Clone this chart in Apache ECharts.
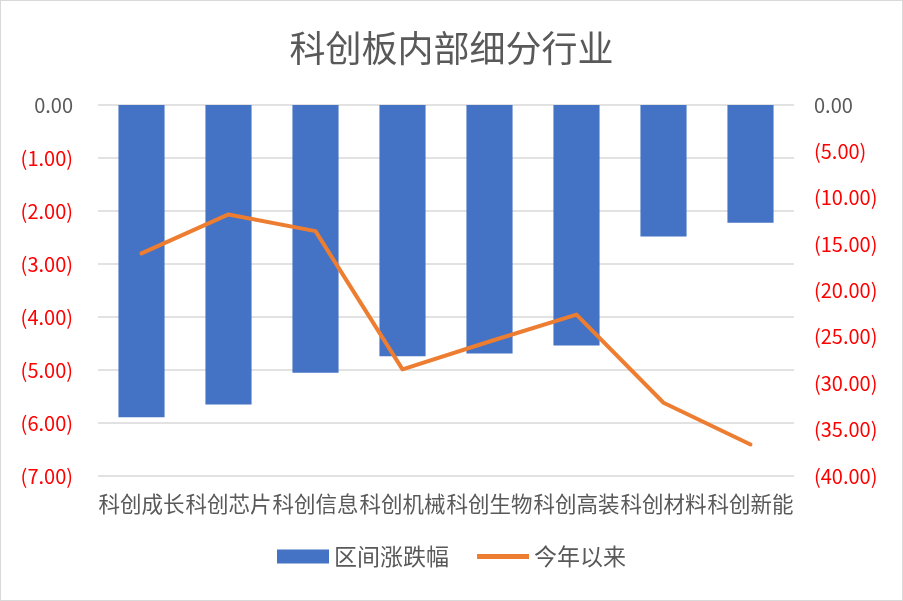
<!DOCTYPE html>
<html>
<head>
<meta charset="utf-8">
<script src="https://cdn.jsdelivr.net/npm/echarts@6/dist/echarts.min.js"></script>
<style>
  html, body { margin: 0; padding: 0; background: #fff; }
  #main { position: absolute; left: 0; top: 0; width: 901px; height: 599px; border: 1px solid #d9d9d9; }
</style>
</head>
<body>
<div id="main"></div>
<script>
// 科创板内部细分行业
var categories = ['科创成长', '科创芯片', '科创信息', '科创机械', '科创生物', '科创高装', '科创材料', '科创新能'];
var rangeChange = [-5.89, -5.65, -5.05, -4.74, -4.69, -4.54, -2.48, -2.22];
var ytdChange = [-16.0, -11.8, -13.6, -28.5, -25.5, -22.6, -32.1, -36.6];

var chart = echarts.init(document.getElementById('main'));

function fmt(v) {
  if (v < 0) return '(' + Math.abs(v).toFixed(2) + ')';
  return v.toFixed(2);
}
function numColor(v) {
  return v < 0 ? '#ff0000' : '#595959';
}

var FONT = '"Noto Sans CJK SC", "Noto Sans", sans-serif';

var option = {
  backgroundColor: '#ffffff',
  title: {
    text: '科创板内部细分行业',
    left: 'center',
    top: 24,
    textStyle: { fontFamily: FONT, fontSize: 36, fontWeight: 'normal', color: '#595959' }
  },
  legend: {
    bottom: 27,
    left: 'center',
    itemGap: 28,
    itemWidth: 52,
    itemHeight: 14,
    textStyle: { fontFamily: FONT, fontSize: 23, color: '#595959' },
    data: [
      { name: '区间涨跌幅', icon: 'rect' },
      { name: '今年以来', icon: 'path://M0,0 L52,0 L52,5 L0,5 Z' }
    ]
  },
  grid: { left: 97, right: 108, top: 104, bottom: 124 },
  xAxis: {
    type: 'category',
    data: categories,
    position: 'bottom',
    axisLine: { show: false, onZero: false },
    axisTick: { show: false },
    axisLabel: { interval: 0, margin: 17, fontFamily: FONT, fontSize: 21.5, color: '#595959' }
  },
  yAxis: [
    {
      type: 'value',
      min: -7, max: 0, interval: 1,
      axisLine: { show: false },
      axisTick: { show: false },
      splitLine: { lineStyle: { color: '#d9d9d9', width: 1.5 } },
      axisLabel: { margin: 25, fontFamily: FONT, fontSize: 20, formatter: fmt, color: numColor }
    },
    {
      type: 'value',
      min: -40, max: 0, interval: 5,
      axisLine: { show: false },
      axisTick: { show: false },
      splitLine: { show: false },
      axisLabel: { margin: 20, fontFamily: FONT, fontSize: 20, formatter: fmt, color: numColor }
    }
  ],
  series: [
    {
      name: '区间涨跌幅',
      type: 'bar',
      yAxisIndex: 0,
      barWidth: '53%',
      itemStyle: { color: '#4472c4' },
      data: rangeChange
    },
    {
      name: '今年以来',
      type: 'line',
      yAxisIndex: 1,
      symbol: 'none',
      lineStyle: { color: '#ed7d31', width: 4, cap: 'round', join: 'round' },
      itemStyle: { color: '#ed7d31' },
      data: ytdChange
    }
  ]
};

chart.setOption(option, true);
</script>
</body>
</html>
